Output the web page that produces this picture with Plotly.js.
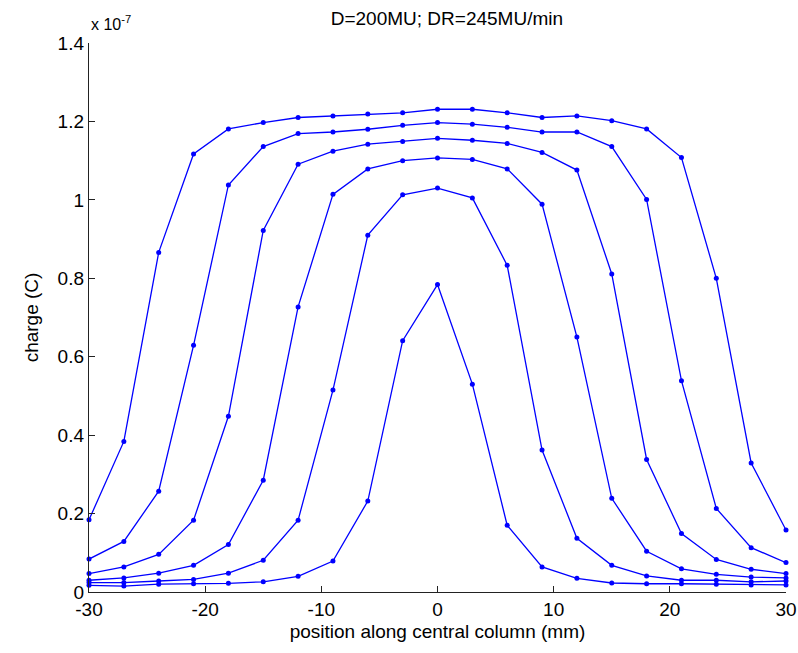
<!DOCTYPE html>
<html>
<head>
<meta charset="utf-8">
<script src="https://cdn.plot.ly/plotly-3.0.1.min.js"></script>
<style>html,body{margin:0;padding:0;background:#fff;}#chart{width:798px;height:653px;}</style>
</head>
<body>
<div id="chart"></div>
<script>
// positions along central column (mm)
const positions = [-30,-27,-24,-21,-18,-15,-12,-9,-6,-3,0,3,6,9,12,15,18,21,24,27,30];
// charge values in units of 1e-7 C
const curve1 = [0.184,0.384,0.866,1.117,1.181,1.197,1.210,1.214,1.219,1.222,1.231,1.231,1.222,1.210,1.214,1.202,1.181,1.108,0.800,0.329,0.158];
const curve2 = [0.084,0.129,0.257,0.629,1.038,1.136,1.169,1.173,1.180,1.190,1.197,1.193,1.185,1.173,1.173,1.136,1.001,0.539,0.213,0.113,0.075];
const curve3 = [0.047,0.064,0.096,0.183,0.448,0.922,1.091,1.124,1.142,1.149,1.157,1.152,1.144,1.121,1.076,0.811,0.338,0.149,0.083,0.058,0.047];
const curve4 = [0.030,0.036,0.048,0.068,0.121,0.285,0.727,1.014,1.079,1.100,1.107,1.103,1.079,0.989,0.650,0.239,0.104,0.059,0.045,0.038,0.036];
const curve5 = [0.024,0.024,0.028,0.032,0.048,0.081,0.183,0.515,0.910,1.013,1.030,1.005,0.833,0.362,0.137,0.068,0.041,0.030,0.030,0.026,0.028];
const curve6 = [0.017,0.015,0.020,0.021,0.022,0.026,0.040,0.079,0.232,0.641,0.784,0.530,0.170,0.064,0.035,0.023,0.021,0.021,0.020,0.018,0.018];
const curves = [curve1, curve2, curve3, curve4, curve5, curve6];

// tick labels
const xTickVals = [-30,-20,-10,0,10,20,30];
const xTickText = ['-30','-20','-10','0','10','20','30'];
const yTickVals = [0,0.2,0.4,0.6,0.8,1,1.2,1.4];
const yTickText = ['0','0.2','0.4','0.6','0.8','1','1.2','1.4'];

const titleText = 'D=200MU; DR=245MU/min';
const xTitle = 'position along central column (mm)';
const yTitle = 'charge (C)';
const exponentText = 'x 10<sup>-7</sup>';

const FONT = 'Liberation Sans, Arial, sans-serif';
const FS = 19;
const traces = curves.map(c => ({
  x: positions, y: c, type: 'scatter', mode: 'lines+markers',
  line: {color: '#0000ff', width: 1.3},
  marker: {color: '#0000ff', size: 5},
  cliponaxis: false, showlegend: false, hoverinfo: 'none'
}));

const layout = {
  width: 798, height: 653,
  paper_bgcolor: '#fff', plot_bgcolor: '#fff',
  margin: {l: 89, r: 12, t: 43, b: 61},
  font: {family: FONT, size: FS, color: '#000'},
  title: {text: titleText, x: 0.56, xanchor: 'center', y: 0.972, yanchor: 'middle', font: {family: FONT, size: FS, color: '#000'}},
  xaxis: {
    range: [-30, 30], tickmode: 'array', tickvals: xTickVals, ticktext: xTickText,
    ticks: 'inside', ticklen: 6, tickwidth: 1.2, tickcolor: '#222',
    showline: true, linecolor: '#222', linewidth: 1.2, mirror: false,
    showgrid: false, zeroline: false,
    tickfont: {family: FONT, size: FS, color: '#000'},
    title: {text: xTitle, font: {family: FONT, size: FS, color: '#000'}, standoff: 5}
  },
  yaxis: {
    range: [0, 1.4], tickmode: 'array', tickvals: yTickVals, ticktext: yTickText,
    ticks: 'inside', ticklen: 6, tickwidth: 1.2, tickcolor: '#222',
    showline: true, linecolor: '#222', linewidth: 1.2, mirror: false,
    showgrid: false, zeroline: false,
    tickfont: {family: FONT, size: FS, color: '#000'},
    title: {text: yTitle, font: {family: FONT, size: FS, color: '#000'}, standoff: 14}
  },
  annotations: [{
    text: exponentText, xref: 'paper', yref: 'paper', x: 0, y: 1, xanchor: 'left', yanchor: 'bottom',
    yshift: 8, showarrow: false, font: {family: FONT, size: 16, color: '#000'}
  }]
};

Plotly.newPlot('chart', traces, layout, {staticPlot: true, displayModeBar: false});
</script>
</body>
</html>
